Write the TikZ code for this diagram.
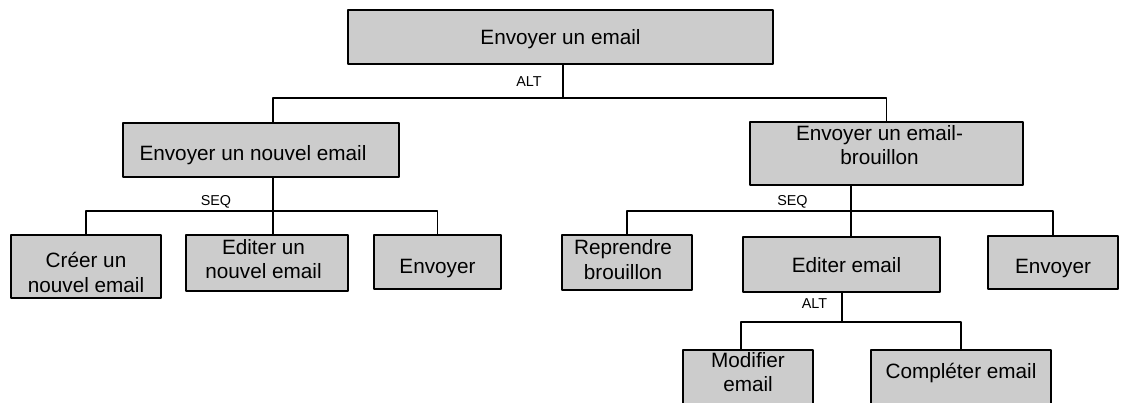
\documentclass[tikz,border=0pt]{standalone}
\usepackage{fontspec}
\setmainfont{Liberation Sans}
\definecolor{boxgray}{RGB}{204,204,204}
\begin{document}
\begin{tikzpicture}[line join=bevel,
  task/.style={draw,rectangle,fill=boxgray,line width=1bp,inner sep=0pt,align=center,
    font=\fontsize{10.4}{12.5}\selectfont},
  oneline/.style={text depth=0pt},
  op/.style={inner sep=0pt,font=\fontsize{7.2}{8}\selectfont},
  link/.style={line width=0.65bp}]
%%
\useasboundingbox (0bp,0bp) rectangle (560.5bp,201.5bp);
\node (email) at (280.25bp,183.0bp) [task,oneline,minimum width=212.5bp,minimum height=27bp] {Envoyer un email};
  \node (nouvel) at (130.5bp,126.5bp) [task,oneline,text height=10.1bp,minimum width=138bp,minimum height=27bp] {Envoyer un nouvel email\hspace*{8bp}};
  \node (brouillon) at (443.25bp,124.75bp) [task,minimum width=136.5bp,minimum height=31.5bp] {Envoyer un email-\hspace*{7bp}\\brouillon\hspace*{7bp}\rule[-8.5bp]{0pt}{8.5bp}};
  \node (creer) at (43.0bp,68.25bp) [task,minimum width=75bp,minimum height=31.5bp] {\rule{0pt}{13.2bp}Créer un\\nouvel email};
  \node (editerun) at (133.5bp,70.0bp) [task,minimum width=81bp,minimum height=28bp] {Editer un\hspace*{3.5bp}\\nouvel email\hspace*{3.5bp}\rule[-4bp]{0pt}{4bp}};
  \node (envoyerA) at (218.75bp,70.5bp) [task,oneline,text height=11.45bp,minimum width=63.5bp,minimum height=27bp] {Envoyer};
  \node (reprendre) at (313.5bp,70.25bp) [task,minimum width=65bp,minimum height=27.5bp] {Reprendre\hspace*{4bp}\\brouillon\hspace*{4bp}\rule[-2.8bp]{0pt}{2.8bp}};
  \node (editer) at (420.75bp,69.25bp) [task,oneline,minimum width=98.5bp,minimum height=27.5bp] {\hspace*{5bp}Editer email};
  \node (envoyerB) at (526.5bp,70.25bp) [task,oneline,text height=11.45bp,minimum width=65bp,minimum height=26.5bp] {Envoyer};
  \node (modifier) at (374.0bp,12.0bp) [task,minimum width=65bp,minimum height=29bp] {Modifier\\email\rule[-7bp]{0pt}{7bp}};
  \node (completer) at (480.5bp,12.0bp) [task,text height=7.8bp,text depth=8bp,minimum width=90bp,minimum height=29bp] {Compléter email};
%
  \coordinate (alt1) at (281.5bp,152.5bp);
  \coordinate (seq1) at (136.5bp,96.0bp);
  \coordinate (seq2) at (425.5bp,96.0bp);
  \coordinate (alt2) at (421.0bp,40.5bp);
  \node (lalt1) at (264.5bp,160.5bp) [op] {ALT};
  \node (lseq1) at (108.0bp,100.5bp) [op] {SEQ};
  \node (lseq2) at (396.25bp,100.5bp) [op] {SEQ};
  \node (lalt2) at (407.25bp,49.8bp) [op] {ALT};
%
  \draw [link] (email.south -| alt1) -- (alt1);
  \draw [link] (alt1) -| (nouvel.north -| seq1);
  \draw [link] (alt1) -| (brouillon.north);
  \draw [link] (nouvel.south -| seq1) -- (seq1);
  \draw [link] (seq1) -| (creer.north);
  \draw [link] (seq1) -- (editerun.north -| seq1);
  \draw [link] (seq1) -| (envoyerA.north);
  \draw [link] (brouillon.south -| seq2) -- (seq2);
  \draw [link] (seq2) -| (reprendre.north);
  \draw [link] (seq2) -- (editer.north -| seq2);
  \draw [link] (seq2) -| (envoyerB.north);
  \draw [link] (editer.south -| alt2) -- (alt2);
  \draw [link] (alt2) -| ([xshift=-3.5bp]modifier.north);
  \draw [link] (alt2) -| (completer.north);
%
\end{tikzpicture}
\end{document}
